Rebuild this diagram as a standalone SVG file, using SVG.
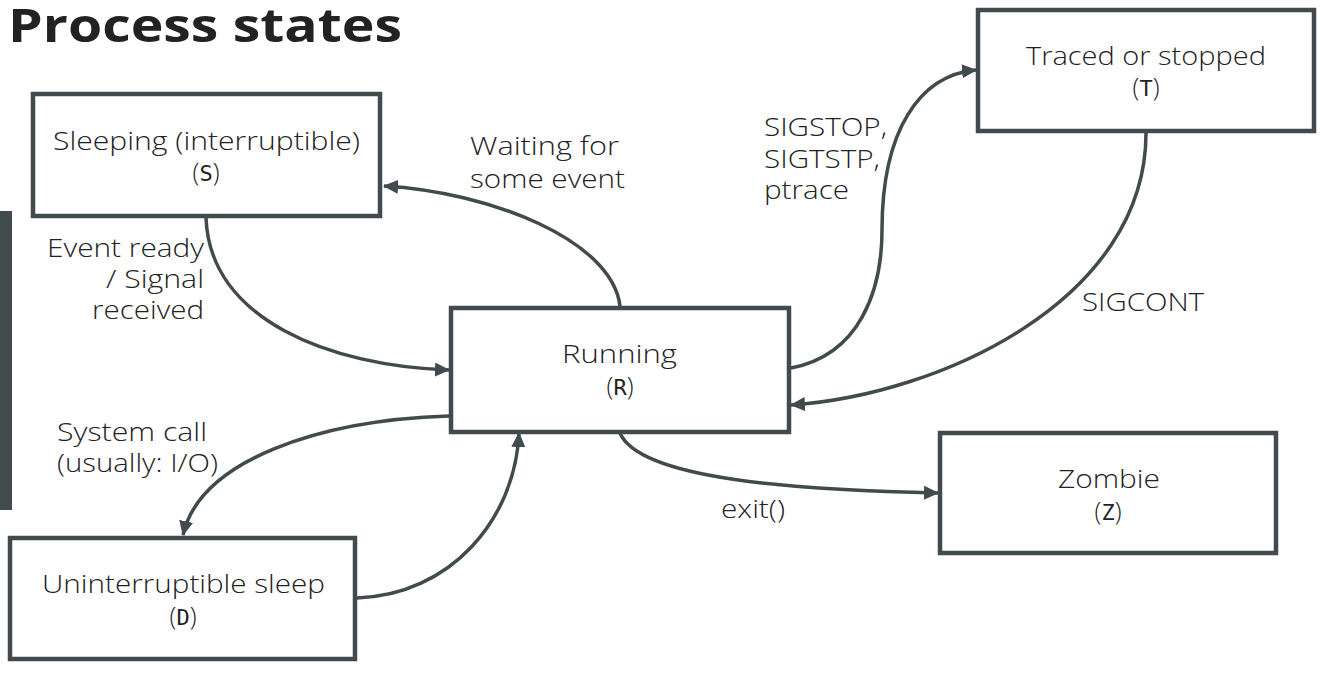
<svg xmlns="http://www.w3.org/2000/svg" width="1338" height="673" viewBox="0 0 1338 673">
<style>
.box{fill:#fff;stroke:#414a4c;stroke-width:4.5}
.t{font-family:"Open Sans","Noto Sans",sans-serif;font-size:25px;fill:#222;font-weight:300}
.m{font-family:"DejaVu Sans Mono","Liberation Mono",monospace;font-size:22px;font-weight:normal}
.c{text-anchor:middle}
.e{fill:none;stroke:#414a4c;stroke-width:3.5;marker-end:url(#ah)}
.title{font-family:"Open Sans","Noto Sans",sans-serif;font-weight:700;font-size:46px;fill:#222}
</style>
<defs>
<marker id="ah" markerUnits="userSpaceOnUse" markerWidth="16" markerHeight="14" refX="14" refY="7" orient="auto">
<path d="M0,0 L15,7 L0,14 Z" fill="#414a4c"/>
</marker>
</defs>
<rect width="1338" height="673" fill="#fff"/>
<text class="title" x="8" y="42" textLength="394" lengthAdjust="spacingAndGlyphs">Process states</text>
<rect x="0" y="211" width="12" height="299" fill="#414a4c"/>
<g id="connectors">
<path class="e" d="M620,306 C612,240 490,192 384,186"/>
<path class="e" d="M206,218 C210,320 330,366 449,370"/>
<path class="e" d="M449,416 C320,420 200,460 183,535"/>
<path class="e" d="M357,598 C450,595 515,520 519,433"/>
<path class="e" d="M791,368 C860,355 882,290 882,230 C882,130 920,75 976,70"/>
<path class="e" d="M1146,133 C1146,300 940,395 791,405"/>
<path class="e" d="M620,433 C640,480 800,490 938,493"/>
<text class="t" x="470" y="155" textLength="149" lengthAdjust="spacingAndGlyphs">Waiting for</text>
<text class="t" x="470" y="188" textLength="155" lengthAdjust="spacingAndGlyphs">some event</text>
<text class="t" x="47" y="257" textLength="157" lengthAdjust="spacingAndGlyphs">Event ready</text>
<text class="t" x="106" y="288" textLength="98" lengthAdjust="spacingAndGlyphs">/ Signal</text>
<text class="t" x="92" y="319" textLength="112" lengthAdjust="spacingAndGlyphs">received</text>
<text class="t" x="57" y="441" textLength="150" lengthAdjust="spacingAndGlyphs">System call</text>
<text class="t" x="57" y="472" textLength="161" lengthAdjust="spacingAndGlyphs">(usually: I/O)</text>
<text class="t" x="764" y="136" textLength="123" lengthAdjust="spacingAndGlyphs">SIGSTOP,</text>
<text class="t" x="764" y="168" textLength="116" lengthAdjust="spacingAndGlyphs">SIGTSTP,</text>
<text class="t" x="764" y="199" textLength="85" lengthAdjust="spacingAndGlyphs">ptrace</text>
<text class="t" x="1082" y="311" textLength="122" lengthAdjust="spacingAndGlyphs">SIGCONT</text>
<text class="t" x="721" y="518" textLength="64" lengthAdjust="spacingAndGlyphs">exit()</text>
</g>
<g id="sleeping">
<rect class="box" x="33" y="94" width="347" height="122"/>
<text class="t" x="53" y="150" textLength="307" lengthAdjust="spacingAndGlyphs">Sleeping (interruptible)</text>
<text class="t c" x="206" y="181">(<tspan class="m">S</tspan>)</text>
</g>
<g id="running">
<rect class="box" x="451" y="308" width="338" height="124"/>
<text class="t" x="562" y="363" textLength="115" lengthAdjust="spacingAndGlyphs">Running</text>
<text class="t c" x="620" y="395">(<tspan class="m">R</tspan>)</text>
</g>
<g id="uninterruptible">
<rect class="box" x="10" y="538" width="345" height="121"/>
<text class="t" x="42" y="593" textLength="283" lengthAdjust="spacingAndGlyphs">Uninterruptible sleep</text>
<text class="t c" x="183" y="625">(<tspan class="m">D</tspan>)</text>
</g>
<g id="traced">
<rect class="box" x="978" y="10" width="336" height="121"/>
<text class="t" x="1026" y="65" textLength="240" lengthAdjust="spacingAndGlyphs">Traced or stopped</text>
<text class="t c" x="1146" y="96">(<tspan class="m">T</tspan>)</text>
</g>
<g id="zombie">
<rect class="box" x="940" y="433" width="336" height="120"/>
<text class="t" x="1058" y="488" textLength="102" lengthAdjust="spacingAndGlyphs">Zombie</text>
<text class="t c" x="1108" y="520">(<tspan class="m">Z</tspan>)</text>
</g>
</svg>
